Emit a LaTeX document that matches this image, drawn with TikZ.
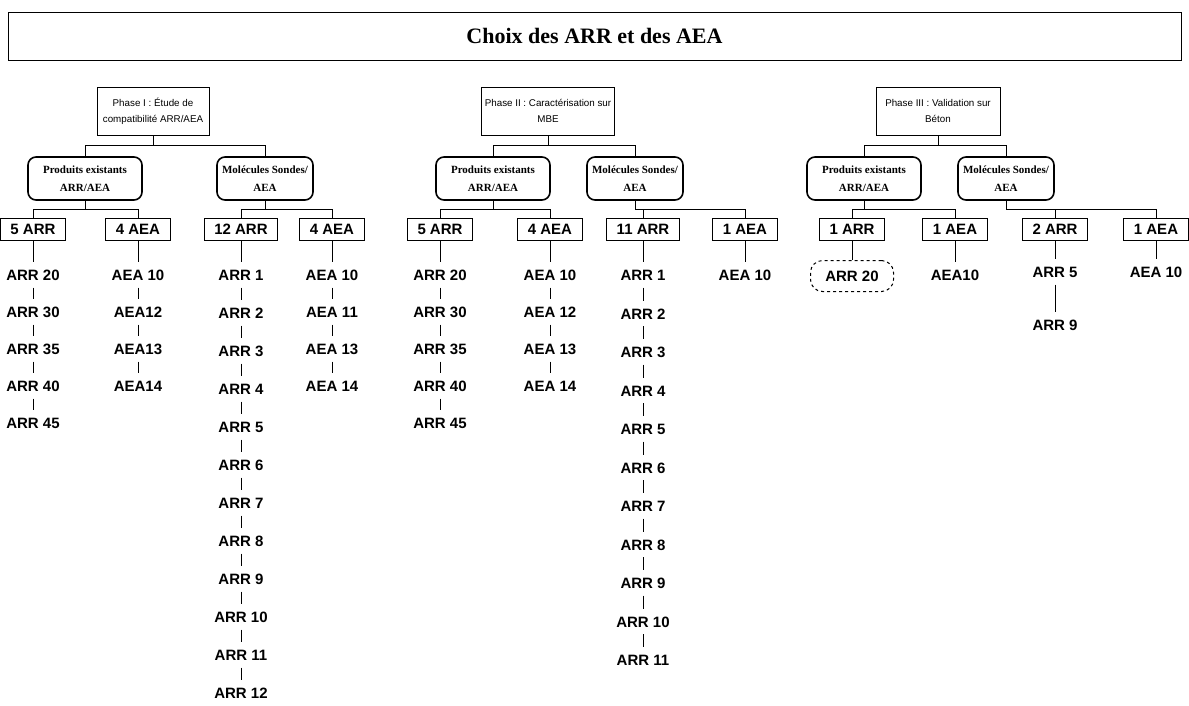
\documentclass[tikz,border=0pt]{standalone}
\usepackage{fontspec}
\setmainfont{Liberation Serif}
\setsansfont{Liberation Sans}
\usetikzlibrary{calc}
\tikzstyle{titlebox}=[draw,line width=1pt,minimum width=1173pt,minimum height=48pt,font=\fontsize{22}{26}\selectfont\bfseries]
\tikzstyle{phase}=[draw,line width=0.9pt,minimum height=48pt,align=center,inner xsep=3pt,font=\sffamily\fontsize{9.8}{16}\selectfont]
\tikzstyle{group}=[draw,line width=1.6pt,rounded corners=8pt,minimum height=43pt,align=center,inner xsep=5pt,font=\fontsize{11}{18}\selectfont\bfseries]
\tikzstyle{count}=[draw,line width=1pt,inner xsep=10pt,inner ysep=5.5pt,text height=11pt,text depth=0pt,font=\sffamily\bfseries\fontsize{15}{18}\selectfont]
\tikzstyle{leaf}=[inner xsep=4pt,inner ysep=7pt,text height=11pt,text depth=0pt,font=\sffamily\bfseries\fontsize{15}{18}\selectfont]
\tikzstyle{link}=[draw,line width=1pt]

\begin{document}
\begin{tikzpicture}[x=1pt,y=-1pt]

    \useasboundingbox (0,0) rectangle (1189,705);

    \node[titlebox] (title) at (594.5,36) {Choix des ARR et des AEA};

    % phases
    \node[phase, minimum width=112pt] (ph1) at (153,111) {Phase I : Étude de\\compatibilité ARR/AEA};
    \node[phase, minimum width=132pt] (ph2) at (548,111) {Phase II : Caractérisation sur\\MBE};
    \node[phase, minimum width=124pt] (ph3) at (938,111) {Phase III : Validation sur\\Béton};

    \foreach \x/\n in {85/1, 493/2, 864/3}
        \node[group, minimum width=114pt] (pe\n) at (\x,178.5) {Produits existants\\ARR/AEA};
    \foreach \x/\n in {265/1, 635/2, 1006/3}
        \node[group, minimum width=96pt] (ms\n) at (\x,178.5) {Molécules Sondes/\\AEA};

    \foreach \x/\name/\lab in {33/c1a/5 ARR, 138/c1b/4 AEA, 241/c1c/12 ARR, 332/c1d/4 AEA,
                               440/c2a/5 ARR, 550/c2b/4 AEA, 643/c2c/11 ARR, 745/c2d/1 AEA,
                               852/c3a/1 ARR, 955/c3b/1 AEA, 1055/c3c/2 ARR, 1156/c3d/1 AEA}
        \node[count] (\name) at (\x,229) {\lab};

    \foreach \source/\dest in {ph1/pe1, ph1/ms1, ph2/pe2, ph2/ms2, ph3/pe3, ph3/ms3,
                               pe1/c1a, pe1/c1b, ms1/c1c, ms1/c1d, pe2/c2a, pe2/c2b,
                               ms2/c2c, ms2/c2d, pe3/c3a, pe3/c3b, ms3/c3c, ms3/c3d}
        \path[link] (\source.south) |- ($(\source.south)!0.5!(\dest.north)$) -| (\dest.north);

    % lists under the counts
    \foreach \col/\x/\y/\dy/\labs in {
        1a/33/275/37/{ARR 20,ARR 30,ARR 35,ARR 40,ARR 45},
        1b/138/275/37/{AEA 10,AEA12,AEA13,AEA14},
        1c/241/275/38/{ARR 1,ARR 2,ARR 3,ARR 4,ARR 5,ARR 6,ARR 7,ARR 8,ARR 9,ARR 10,ARR 11,ARR 12},
        1d/332/275/37/{AEA 10,AEA 11,AEA 13,AEA 14},
        2a/440/275/37/{ARR 20,ARR 30,ARR 35,ARR 40,ARR 45},
        2b/550/275/37/{AEA 10,AEA 12,AEA 13,AEA 14},
        2c/643/275/38.5/{ARR 1,ARR 2,ARR 3,ARR 4,ARR 5,ARR 6,ARR 7,ARR 8,ARR 9,ARR 10,ARR 11},
        2d/745/275/37/{AEA 10},
        3b/955/275/37/{AEA10},
        3c/1055/272/53/{ARR 5,ARR 9},
        3d/1156/272/37/{AEA 10}}{
        \foreach \lab [count=\i, remember=\i as \j (initially 0)] in \labs {
            \node[leaf] (l\col-\i) at ({\x},{\y+\dy*(\i-1)}) {\lab};
            \ifnum\j=0 \path[link] (c\col) -- (l\col-\i); \else \path[link] (l\col-\j) -- (l\col-\i); \fi
        }
    }

    \node[leaf, draw, dashed, line width=1pt, rounded corners=12pt, minimum width=83pt, minimum height=31pt] (l3a-1) at (852,276) {ARR 20};
    \path[link] (c3a) -- (l3a-1);

\end{tikzpicture}
\end{document}
